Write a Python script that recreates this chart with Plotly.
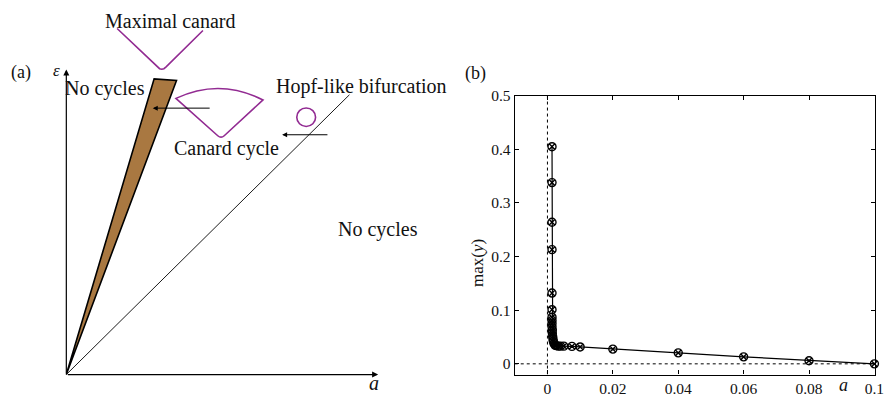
import plotly.graph_objects as go

W, H = 891, 397
FONT = "Liberation Serif"
PURPLE = "#922b92"
BROWN = "#a97841"

# ---------------- Panel (b) data ----------------
a_vals = [0.0014, 0.0014, 0.0014, 0.0014, 0.0014, 0.0014, 0.0014, 0.0014,
          0.0014, 0.0014, 0.0015, 0.0015, 0.0016, 0.0017, 0.0018, 0.0020,
          0.0023, 0.0027, 0.0033, 0.0040, 0.0050, 0.0075, 0.0100, 0.0200,
          0.0400, 0.0600, 0.0800, 0.1000]
maxy_vals = [0.405, 0.338, 0.264, 0.213, 0.132, 0.101, 0.087, 0.081,
             0.075, 0.069, 0.063, 0.057, 0.051, 0.046, 0.042, 0.038,
             0.035, 0.034, 0.033, 0.033, 0.033, 0.0325, 0.0315, 0.0275,
             0.0205, 0.013, 0.0058, 0.0]
x_ticks = [0, 0.02, 0.04, 0.06, 0.08, 0.1]
x_tick_labels = ["0", "0.02", "0.04", "0.06", "0.08", "0.1"]
y_ticks = [0, 0.1, 0.2, 0.3, 0.4, 0.5]
y_tick_labels = ["0", "0.1", "0.2", "0.3", "0.4", "0.5"]
x_range = [-0.01, 0.1002]
y_range = [-0.02, 0.5]

# ---------------- Panel (a) schematic geometry (schematic units) ----------------
origin = [67, 375]
eps_axis_tip = [67, 62]
a_axis_tip = [382, 375]
wedge_x = [67, 155.7, 178.3, 67]
wedge_y = [375, 71.7, 73.3, 375]
hopf_line_x = [67, 353]
hopf_line_y = [375, 88]
maxcan_x = [118.3, 159.0, 161.2, 163.4, 165.6, 167.8, 205.0]
maxcan_y = [20.0, 59.3, 61.2, 61.8, 61.2, 59.3, 22.0]
canard_arc = [[177.7, 91.7], [221.7, 70.5], [265.7, 93.3]]
canard_bottom = [[226.5, 130.0], [223.3, 133.0], [220.0, 130.0]]
hopf_circle = [309.3, 111.0, 9.5]
arrow1 = [[213.3, 101.7], [154.3, 101.7]]
arrow2 = [[332.3, 129.0], [285.0, 129.0]]

fig = go.Figure()

# Panel (b)
fig.add_trace(go.Scatter(
    x=a_vals, y=maxy_vals, mode="lines+markers",
    line=dict(color="black", width=1.2),
    marker=dict(symbol="circle-x-open", size=8, color="black",
                line=dict(width=1.4, color="black")),
    xaxis="x", yaxis="y", showlegend=False, cliponaxis=False))
fig.add_trace(go.Scatter(
    x=[0, 0], y=y_range, mode="lines",
    line=dict(color="black", width=1, dash="dot"),
    xaxis="x", yaxis="y", showlegend=False))
fig.add_trace(go.Scatter(
    x=x_range, y=[0, 0], mode="lines",
    line=dict(color="black", width=1, dash="dot"),
    xaxis="x", yaxis="y", showlegend=False))

# Panel (a)
fig.add_trace(go.Scatter(
    x=wedge_x, y=wedge_y, mode="lines", fill="toself", fillcolor=BROWN,
    line=dict(color="black", width=1.6), xaxis="x2", yaxis="y2",
    showlegend=False))
fig.add_trace(go.Scatter(
    x=hopf_line_x, y=hopf_line_y, mode="lines",
    line=dict(color="black", width=0.9), xaxis="x2", yaxis="y2",
    showlegend=False))
fig.add_trace(go.Scatter(
    x=maxcan_x, y=maxcan_y, mode="lines",
    line=dict(color=PURPLE, width=1.6), xaxis="x2", yaxis="y2",
    showlegend=False))

p0, pm, p1 = canard_arc
b0, bm, b1 = canard_bottom
path = (f"M {p0[0]} {p0[1]} Q {pm[0]} {pm[1]} {p1[0]} {p1[1]} "
        f"L {b0[0]} {b0[1]} Q {bm[0]} {bm[1]} {b1[0]} {b1[1]} Z")
shapes = [
    dict(type="path", path=path, xref="x2", yref="y2",
         line=dict(color=PURPLE, width=1.6)),
    dict(type="circle", xref="x2", yref="y2",
         x0=hopf_circle[0] - hopf_circle[2], x1=hopf_circle[0] + hopf_circle[2],
         y0=hopf_circle[1] - hopf_circle[2], y1=hopf_circle[1] + hopf_circle[2],
         line=dict(color=PURPLE, width=1.6)),
]

def arrow(tip, tail, width=1.1, size=1.0):
    return dict(x=tip[0], y=tip[1], ax=tail[0], ay=tail[1],
                xref="x2", yref="y2", axref="x2", ayref="y2",
                showarrow=True, arrowhead=2, arrowsize=size,
                arrowwidth=width, arrowcolor="black", text="")

annotations = [
    arrow(eps_axis_tip, origin, 1.2, 1.0),
    arrow(a_axis_tip, origin, 1.2, 1.0),
    arrow(arrow1[1], arrow1[0], 1.0, 1.0),
    arrow(arrow2[1], arrow2[0], 1.0, 1.0),
]

def txt(x, y, s, size=20, ref="x2", yref="y2", xanchor="center", **kw):
    d = dict(x=x, y=y, text=s, xref=ref, yref=yref, showarrow=False,
             xanchor=xanchor, yanchor="middle",
             font=dict(family=FONT, size=size, color="#111"))
    d.update(kw)
    return d

annotations += [
    txt(172.5, 12, "Maximal canard"),
    txt(21.5, 65, "(a)", 18),
    txt(57, 63, "<i>ε</i>", 17),
    txt(106.5, 82, "No cycles"),
    txt(228.7, 143, "Canard cycle"),
    txt(365, 80, "Hopf-like bifurcation"),
    txt(381.7, 226, "No cycles"),
    txt(378, 384, "<i>a</i>", 20),
    txt(480 / W, 1 - 66 / H, "(b)", 18, ref="paper", yref="paper"),
    txt(482.5 / W, 1 - 261 / H, "max(<i>y</i>)", 17, ref="paper", yref="paper",
        textangle=-90),
    txt(852 / W, 1 - 386 / H, "<i>a</i>", 18, ref="paper", yref="paper"),
]

fig.update_layout(
    width=W, height=H, margin=dict(l=0, r=0, t=0, b=0),
    paper_bgcolor="white", plot_bgcolor="white",
    shapes=shapes, annotations=annotations,
    xaxis=dict(domain=[520 / W, 884 / W], range=x_range, tickvals=x_ticks,
               ticktext=x_tick_labels, ticks="inside", ticklen=4,
               tickcolor="black", showline=True, linecolor="black",
               linewidth=1.2, mirror="ticks", showgrid=False, zeroline=False,
               tickfont=dict(family=FONT, size=15.5, color="#111"),
               ticklabeloverflow="allow", anchor="y"),
    yaxis=dict(domain=[1 - 375 / H, 1 - 89 / H], range=y_range,
               tickvals=y_ticks, ticktext=y_tick_labels, ticks="inside",
               ticklen=4, tickcolor="black", showline=True,
               linecolor="black", linewidth=1.2, mirror="ticks",
               showgrid=False, zeroline=False,
               tickfont=dict(family=FONT, size=15.5, color="#111"),
               ticklabeloverflow="allow", anchor="x"),
    xaxis2=dict(domain=[0, 450 / W], range=[0, 450], visible=False,
                anchor="y2"),
    yaxis2=dict(domain=[0, 1], range=[H, 0], visible=False, anchor="x2"),
)

fig.write_html("out.html")
